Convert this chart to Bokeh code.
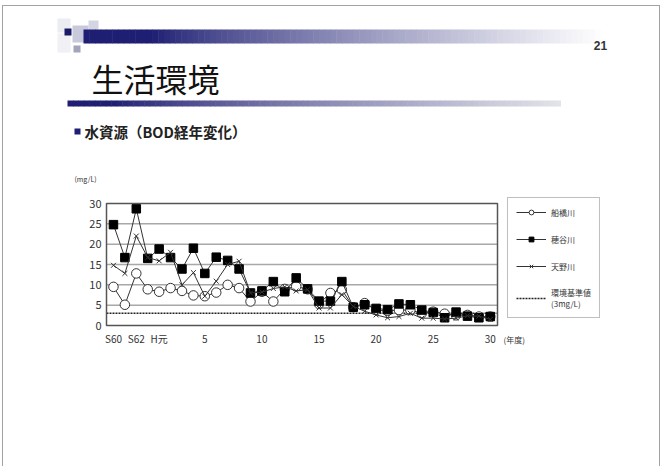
from bokeh.plotting import figure
from bokeh.models import Range1d, FixedTicker, LinearAxis, Legend, LegendItem
from bokeh.core.properties import value
from bokeh.embed import file_html
from bokeh.resources import INLINE

# ---------------- data ----------------
years = ["S60", "S61", "S62", "S63", "H元"] + [str(i) for i in range(2, 31)]
tick_labels = ["S60", "S62", "H元", "5", "10", "15", "20", "25", "30"]
y_ticks = [0, 5, 10, 15, 20, 25, 30]
series_names = ["船橋川", "穂谷川", "天野川"]
funabashi = [9.5, 5.1, 12.8, 8.9, 8.3, 9.2, 8.5, 7.4, 7.2, 8.1, 10.0, 9.2, 5.9, 8.3, 5.9, 9.0, 9.6,
             8.9, 5.3, 8.0, 8.8, 4.5, 5.5, 3.8, 3.6, 3.8, 3.8, 3.0, 3.4, 2.9, 2.5, 2.6, 2.2, 2.2]
hotani = [24.8, 16.7, 28.7, 16.5, 18.8, 16.7, 13.9, 19.0, 12.8, 16.8, 16.0, 13.9, 8.0, 8.5, 10.8, 8.3, 11.7,
          9.0, 6.0, 6.0, 10.8, 4.5, 5.1, 4.2, 3.9, 5.3, 5.1, 3.8, 3.2, 1.9, 3.3, 2.3, 1.9, 2.2]
amano = [14.8, 12.8, 22.0, 16.7, 15.9, 18.0, 10.0, 13.0, 7.2, 10.9, 15.0, 15.8, 8.0, 8.2, 9.1, 9.5, 8.5,
         8.8, 4.3, 4.3, 7.6, 4.7, 3.5, 2.6, 1.9, 2.2, 3.0, 1.8, 1.8, 1.6, 1.8, 2.4, 2.3, 1.5]
standard = 3
standard_label = "環境基準値\n(3mg/L)"
page_title = "生活環境"
subtitle = "水資源（BOD経年変化）"
page_number = "21"
y_unit = "(mg/L)"
x_unit = "(年度)"

FONT = "Noto Sans CJK JP"

# ---------------- layout (pixels) ----------------
W, H = 661, 466
FL, FR, FT, FB = 106, 497, 203, 325          # plot area on the page
x_lo, x_hi = -0.61, len(years) - 1 + 0.63
y_lo, y_hi = y_ticks[0], y_ticks[-1]
kx = (x_hi - x_lo) / (FR - FL)
ky = (y_hi - y_lo) / (FB - FT)

p = figure(width=W, height=H, output_backend="svg", toolbar_location=None,
           x_range=Range1d(0, W), y_range=Range1d(H, 0),
           x_axis_type=None, y_axis_type=None, min_border=0)
if p.title is not None:
    p.title.visible = False
p.extra_x_ranges = {"cx": Range1d(x_lo - FL * kx, x_hi + (W - FR) * kx)}
p.extra_y_ranges = {"cy": Range1d(y_lo - (H - FB) * ky, y_hi + FT * ky)}
p.outline_line_color = None
p.background_fill_color = "white"
p.border_fill_color = "white"

# ---------------- page decoration ----------------
navy = (30, 30, 115)


def hexc(c):
    return "#%02x%02x%02x" % c


def gradient(x0, x1, t, b, c0, c1, solid_until, n=90, gamma=1.0):
    w = (x1 - x0) / n
    lefts, rights, cols = [], [], []
    for i in range(n):
        xl = x0 + i * w
        f = 0.0 if xl < solid_until else ((xl - solid_until) / (x1 - solid_until)) ** gamma
        cols.append(hexc(tuple(int(round(c0[k] + (c1[k] - c0[k]) * f)) for k in range(3))))
        lefts.append(xl)
        rights.append(xl + w + 0.5)
    p.quad(left=lefts, right=rights, top=[t] * n, bottom=[b] * n, fill_color=cols, line_color=None)


# dotted page border
p.quad(left=2, right=659, top=5, bottom=470, fill_color=None, line_color="#444444",
       line_dash="1 1", line_width=1)
# header squares + bars
p.quad(left=[57, 57, 72, 88, 73], right=[70, 70, 88, 98, 80], top=[18, 33, 25, 20, 45],
       bottom=[32, 52, 42, 32, 52],
       fill_color=["#ececf3", "#f0f0f5", "#c9c9dc", "#d4d4e3", "#a4a4bc"], line_color=None)
gradient(83, 600, 29, 43, navy, (255, 255, 255), 150, gamma=0.8)
p.quad(left=64, right=71, top=28, bottom=35, fill_color="#1a1a66", line_color=None)
gradient(67, 560, 100, 106, navy, (228, 228, 234), 110, gamma=0.8)

p.text(x=[91], y=[77], text=[page_title], text_font=value(FONT), text_font_size="32px",
       text_color="#111111", text_baseline="middle")
p.text(x=[600], y=[45], text=[page_number], text_font=value("Liberation Sans"),
       text_font_size="12px", text_font_style="bold", text_color="#333333",
       text_baseline="middle", text_align="center")
p.quad(left=74, right=80, top=128, bottom=134, fill_color="#1e1e73", line_color=None)
p.text(x=[84], y=[131], text=[subtitle], text_font=value(FONT), text_font_size="14.5px",
       text_font_style="bold", text_color="#222222", text_baseline="middle")
p.text(x=[74], y=[178], text=[y_unit], text_font=value(FONT), text_font_size="7px",
       text_color="#333333", text_baseline="middle")
p.text(x=[503], y=[339], text=[x_unit], text_font=value(FONT), text_font_size="8px",
       text_color="#333333", text_baseline="middle")

# ---------------- chart ----------------
rx = dict(x_range_name="cx", y_range_name="cy")
xs = list(range(len(years)))
grid_vals = y_ticks[1:-1]
p.segment(x0=[x_lo] * len(grid_vals), x1=[x_hi] * len(grid_vals), y0=grid_vals, y1=grid_vals,
          line_color="#a8a8a8", line_width=1.5, **rx)

ref_r = p.line([x_lo, x_hi], [standard, standard], line_color="#222222", line_width=1.5,
               line_dash="2 1", **rx)

l1 = p.line(xs, funabashi, line_color="#333333", line_width=1, **rx)
s1 = p.scatter(xs, funabashi, marker="circle", size=9.5, fill_color="white",
               line_color="#333333", line_width=1, **rx)
l2 = p.line(xs, hotani, line_color="#333333", line_width=1, **rx)
s2 = p.scatter(xs, hotani, marker="square", size=8.5, fill_color="black",
               line_color="black", **rx)
l3 = p.line(xs, amano, line_color="#333333", line_width=1, **rx)
s3 = p.scatter(xs, amano, marker="x", size=7, line_color="#333333", line_width=1, **rx)

p.quad(left=x_lo, right=x_hi, bottom=y_lo, top=y_hi, fill_color=None,
       line_color="#555555", line_width=1.5, **rx)

yax = LinearAxis(x_range_name="cx", y_range_name="cy", fixed_location=x_lo,
                 ticker=FixedTicker(ticks=y_ticks))
xax = LinearAxis(x_range_name="cx", y_range_name="cy", fixed_location=y_lo,
                 ticker=FixedTicker(ticks=[years.index(t) for t in tick_labels]),
                 major_label_overrides={years.index(t): t for t in tick_labels})
for ax in (xax, yax):
    ax.axis_line_color = None
    ax.major_tick_line_color = None
    ax.minor_tick_line_color = None
    ax.major_tick_out = 0
    ax.major_tick_in = 0
    ax.minor_tick_out = 0
    ax.minor_tick_in = 0
    ax.major_label_text_font = FONT
    ax.major_label_text_color = "#333333"
yax.major_label_text_font_size = "11px"
xax.major_label_text_font_size = "10px"
yax.major_label_standoff = 5
xax.major_label_standoff = 5
p.add_layout(yax, "left")
p.add_layout(xax, "below")

legend = Legend(items=[
    LegendItem(label=series_names[0], renderers=[l1, s1]),
    LegendItem(label=series_names[1], renderers=[l2, s2]),
    LegendItem(label=series_names[2], renderers=[l3, s3]),
    LegendItem(label=standard_label, renderers=[ref_r]),
], location=(507, H - 318))
legend.label_text_font = FONT
legend.label_text_font_size = "8px"
legend.label_text_color = "#333333"
legend.border_line_color = "#808080"
legend.border_line_width = 1
legend.background_fill_color = "white"
legend.glyph_width = 30
legend.glyph_height = 12
legend.label_standoff = 5
legend.spacing = 15
legend.padding = 8
legend.margin = 0
legend.click_policy = "none"
p.add_layout(legend)

open("out.html", "w").write(file_html(p, INLINE))
